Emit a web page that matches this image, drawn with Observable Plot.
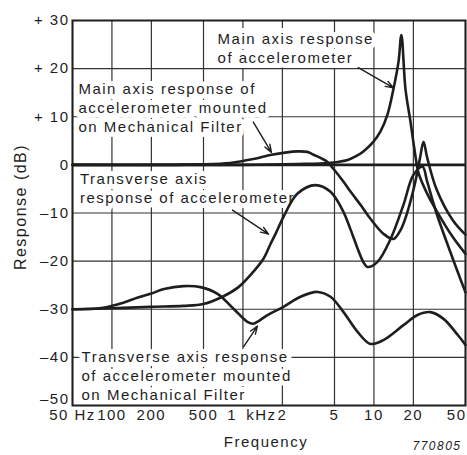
<!DOCTYPE html>
<html><head><meta charset="utf-8">
<script src="https://cdn.jsdelivr.net/npm/d3@7"></script>
<script src="https://cdn.jsdelivr.net/npm/@observablehq/plot@0.6"></script>
<style>body{margin:0;background:#fff}</style>
</head><body><div id="chart"></div>
<script>
// Frequency (Hz) / response (dB)
const mainAccel = [[50,0],[500,0],[1000,0],[2000,0.1],[3000,0.2],[4500,0.4],[5300,0.6],[6300,1.0],[7300,1.8],[8300,2.8],[9700,4.5],[11200,6.9],[12700,10.5],[14100,15.8],[15400,21.4],[16200,27],[17400,15.8],[19000,9],[20700,2],[21800,-1.5],[25000,-5.5],[30000,-9.5],[40000,-15],[50000,-18.5]];
const mainFilter = [[50,0],[300,0],[450,0.1],[800,0.4],[1200,1.2],[1650,2.1],[2040,2.5],[2600,2.8],[3100,2.7],[3460,2.1],[4000,1.3],[4420,0.6],[4900,-0.8],[5860,-3.5],[6600,-5.5],[8000,-8.5],[9400,-11.2],[11800,-14.3],[14100,-15.4],[16000,-13.5],[18000,-9.8],[20700,-3.5],[22500,1.5],[23900,4.8],[25500,1.5],[30000,-5],[40000,-11.5],[50000,-14.5]];
const transAccel = [[50,-30],[100,-29.8],[197,-29.5],[352,-29.3],[500,-28.9],[698,-27.4],[925,-25.4],[1140,-22.9],[1435,-19.5],[1620,-16.5],[1770,-14.4],[2040,-10.8],[2600,-6],[3580,-4.2],[4660,-5.6],[5860,-9.8],[6600,-13.3],[8300,-20.2],[8900,-21.2],[10600,-20.2],[13400,-15.4],[16800,-8.3],[20000,-2.1],[23500,-0.4],[25500,-3.5],[30000,-10],[40000,-19.5],[50000,-26.5]];
const transFilter = [[50,-30],[80,-29.8],[110,-29],[160,-27.5],[197,-26.8],[250,-25.8],[352,-25.2],[474,-25.4],[640,-26.8],[847,-29.9],[1080,-32.6],[1200,-33],[1540,-31.2],[2040,-29.5],[2750,-27.4],[3710,-26.4],[4660,-27.4],[5860,-30.6],[7500,-34.7],[9400,-37.2],[11800,-36.4],[16800,-33.3],[21500,-31.2],[27000,-30.6],[34000,-32],[43500,-35.3],[50000,-37.4]];

const xTicks = [50,100,200,500,1000,2000,5000,10000,20000,50000];
const xTickLabels = ["50 Hz","100","200","500","1\u2002kHz","2","5","10","20","50"];
const yTicks = [30,20,10,0,-10,-20,-30,-40,-50];
const yTickLabels = ["+ 30","+ 20","+ 10","0","\u201310","\u201320","\u201330","\u201340","\u201350"];

const annText = ["Main axis response\nof accelerometer",
  "Main axis response of\naccelerometer mounted\non Mechanical Filter",
  "Transverse axis\nresponse of accelerometer",
  "Transverse axis response\nof accelerometer mounted\non Mechanical Filter"];
const annX = [640, 55.5, 57, 58.6];
const annY = [27.9, 17.4, -1.2, -38.2];

const arrX1 = [7600, 1200, 832, 1010];
const arrY1 = [20.2, 8.9, -9.4, -37.8];
const arrX2 = [14100, 1650, 1570, 1290];
const arrY2 = [16, 2.6, -14.4, -33.5];

const ann = annText.map((t,i)=>({t, x:annX[i], y:annY[i]}));
const arrows = arrX1.map((_,i)=>({x1:arrX1[i],y1:arrY1[i],x2:arrX2[i],y2:arrY2[i]}));
const xLab = xTicks.map((v,i)=>({v, t:xTickLabels[i]}));
const yLab = yTicks.map((v,i)=>({v, t:yTickLabels[i]}));
const ink = "#1e1e1e";
const lineOpts = {x: d=>d[0], y: d=>d[1], curve: "catmull-rom", stroke: ink, strokeWidth: 2.6};
const xLabOpts = {x: "v", text: "t", frameAnchor: "bottom", lineAnchor: "top", dy: 4, fontSize: 15, fill: ink};
const yLabOpts = {y: "v", text: "t", frameAnchor: "left", textAnchor: "end", dx: -3, fontSize: 15, fill: ink};

const chart = Plot.plot({
  width: 467, height: 455,
  marginLeft: 72, marginRight: 2, marginTop: 20, marginBottom: 50,
  style: {fontFamily: "'Liberation Sans', Arial, sans-serif", fontSize: "15px", letterSpacing: "1.5px", background: "#fff", color: ink},
  x: {type: "log", domain: [50, 50000], axis: null},
  y: {domain: [-50, 30], axis: null},
  marks: [
    Plot.ruleX(xTicks, {stroke: "#333", strokeWidth: 1.2}),
    Plot.ruleY(yTicks, {stroke: "#333", strokeWidth: 1.2}),
    Plot.text(ann, {x: "x", y: "y", text: "t", textAnchor: "start", lineAnchor: "top", lineHeight: 1.25, fontSize: 15, fill: ink, stroke: "#fff", strokeWidth: 10}),
    Plot.ruleY([0], {stroke: ink, strokeWidth: 2.6}),
    Plot.frame({stroke: ink, strokeWidth: 2}),
    Plot.line(transFilter, lineOpts),
    Plot.line(transAccel, lineOpts),
    Plot.line(mainFilter, lineOpts),
    Plot.line(mainAccel, lineOpts),
    Plot.arrow(arrows, {x1: "x1", y1: "y1", x2: "x2", y2: "y2", stroke: ink, strokeWidth: 1.4, headLength: 9, headAngle: 40}),
    // tick labels
    Plot.text(xLab, {...xLabOpts, filter: d => d.v !== 1000 && d.v !== 50000}),
    Plot.text(xLab, {...xLabOpts, filter: d => d.v === 1000, dx: 9}),
    Plot.text(xLab, {...xLabOpts, filter: d => d.v === 50000, textAnchor: "end", dx: 1}),
    Plot.text(yLab, {...yLabOpts, filter: d => d.v !== -50}),
    Plot.text(yLab, {...yLabOpts, filter: d => d.v === -50, dy: -6}),
    // axis titles
    Plot.text(["Response (dB)"], {frameAnchor: "left", textAnchor: "middle", rotate: -90, dx: -52, dy: -6, fontSize: 16, fill: ink}),
    Plot.text(["Frequency"], {frameAnchor: "bottom", dx: -3, dy: 41, fontSize: 15, fill: ink}),
    Plot.text(["770805"], {frameAnchor: "bottom-right", textAnchor: "end", dx: -4, dy: 44, fontSize: 12, fontStyle: "italic", fill: ink})
  ]
});
document.getElementById("chart").appendChild(chart);
</script>
</body></html>
